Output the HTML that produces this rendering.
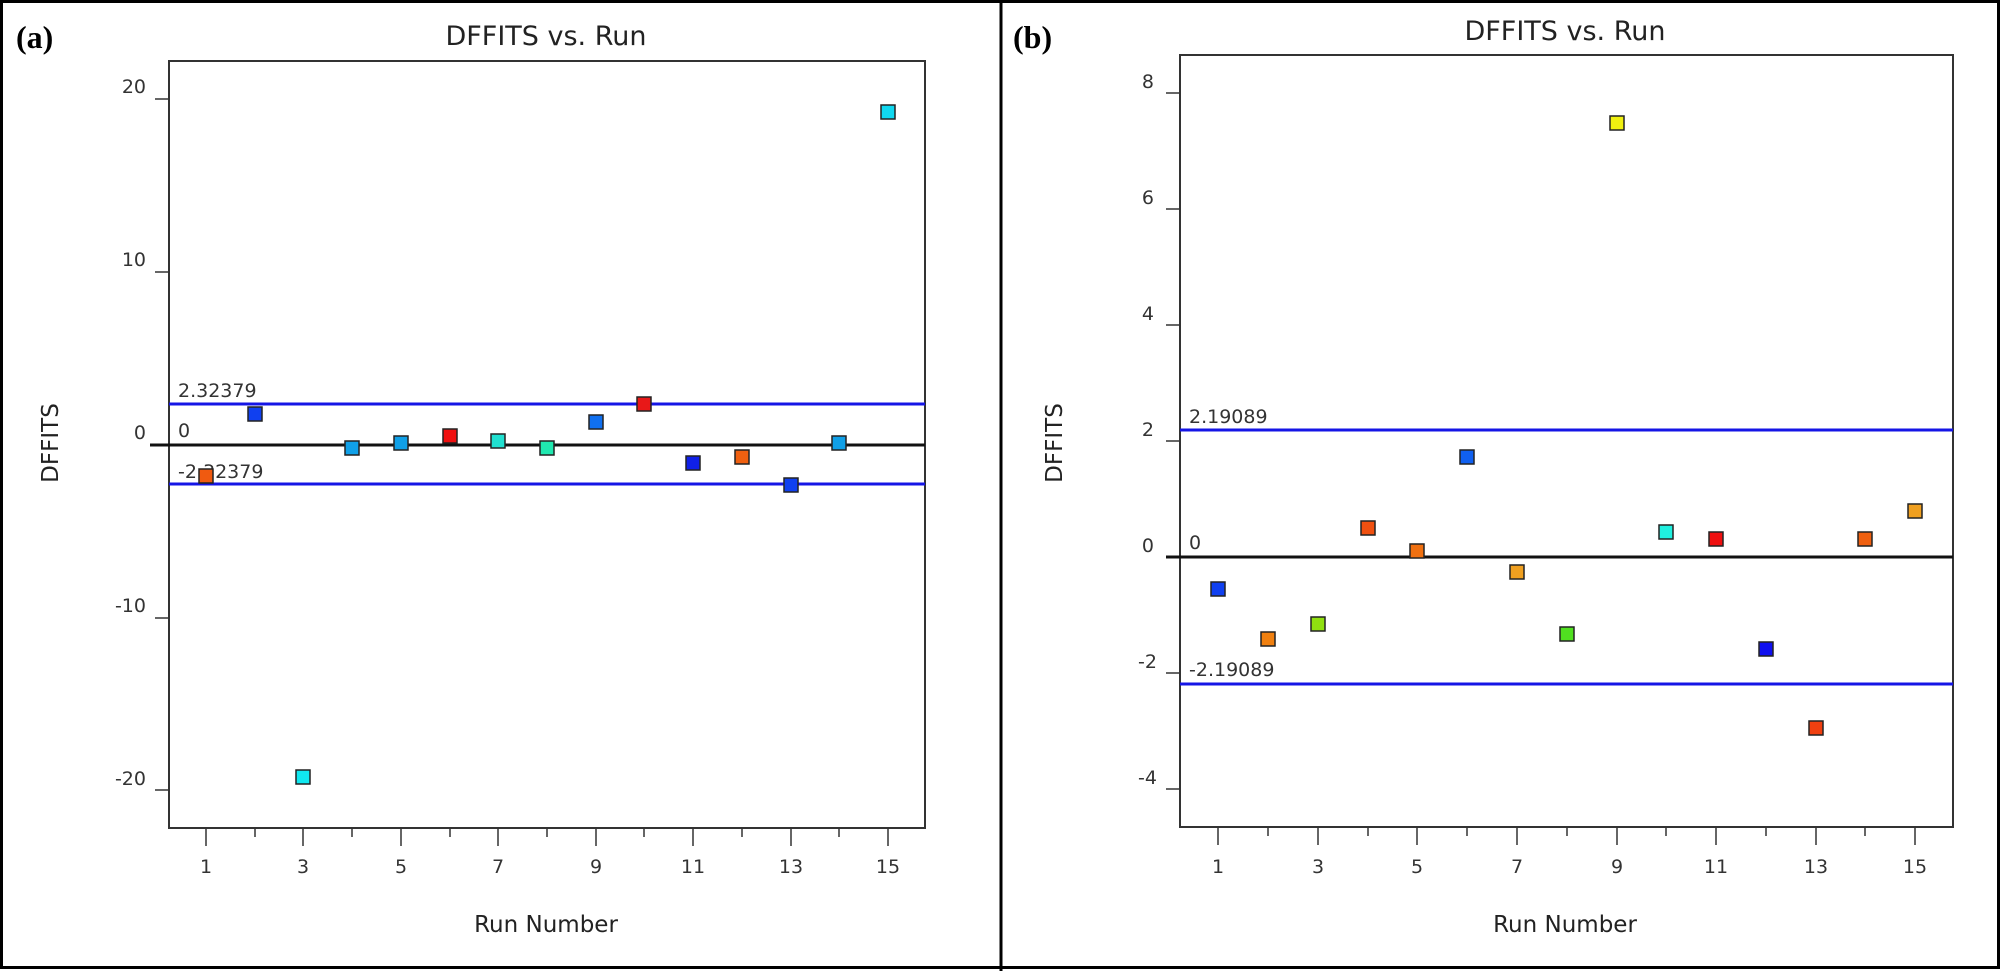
<!DOCTYPE html>
<html><head><style>
html,body{margin:0;padding:0;background:#fff;}
svg{display:block;}
text{font-family:"DejaVu Sans","Liberation Sans",sans-serif;fill:#333;}
.tk{font-size:19px;}
.ttl{font-size:27px;fill:#222;}
.lbl{font-size:23px;fill:#222;}
.pl{font-family:"Liberation Serif",serif;font-weight:bold;font-size:32px;fill:#000;}
</style></head><body>
<svg width="2000" height="971" viewBox="0 0 2000 971" xmlns="http://www.w3.org/2000/svg">
<rect x="1.5" y="1.5" width="1997" height="966" fill="none" stroke="#000" stroke-width="3"/>
<line x1="1001" y1="0" x2="1001" y2="971" stroke="#000" stroke-width="3"/>

<!-- Panel a -->
<text class="pl" x="16" y="48">(a)</text>
<text class="ttl" x="546" y="45" text-anchor="middle">DFFITS vs. Run</text>
<rect x="169" y="61" width="756" height="767" fill="none" stroke="#333" stroke-width="2"/>
<g stroke="#333" stroke-width="1.5">
<line x1="155" y1="99" x2="169" y2="99"/><line x1="155" y1="272" x2="169" y2="272"/><line x1="155" y1="445" x2="169" y2="445"/><line x1="155" y1="618" x2="169" y2="618"/><line x1="155" y1="790" x2="169" y2="790"/>
</g>
<g class="tk" text-anchor="end">
<text x="146" y="93">20</text><text x="146" y="266">10</text><text x="146" y="439">0</text><text x="146" y="612">-10</text><text x="146" y="785">-20</text>
</g>
<line x1="169" y1="404" x2="925" y2="404" stroke="#1515e6" stroke-width="3"/>
<line x1="169" y1="484" x2="925" y2="484" stroke="#1515e6" stroke-width="3"/>
<line x1="150" y1="445" x2="925" y2="445" stroke="#111" stroke-width="3"/>
<text class="tk" x="178" y="397">2.32379</text>
<text class="tk" x="178" y="437">0</text>
<text class="tk" x="178" y="478">-2.32379</text>
<text class="lbl" x="58" y="443" text-anchor="middle" transform="rotate(-90 58 443)">DFFITS</text>
<text class="lbl" x="546" y="932" text-anchor="middle">Run Number</text>

<!-- Panel b -->
<text class="pl" x="1013" y="48">(b)</text>
<text class="ttl" x="1565" y="40" text-anchor="middle">DFFITS vs. Run</text>
<rect x="1180" y="55" width="773" height="772" fill="none" stroke="#333" stroke-width="2"/>
<g stroke="#333" stroke-width="1.5">
<line x1="1166" y1="93" x2="1180" y2="93"/><line x1="1166" y1="209" x2="1180" y2="209"/><line x1="1166" y1="325" x2="1180" y2="325"/><line x1="1166" y1="441" x2="1180" y2="441"/><line x1="1166" y1="557" x2="1180" y2="557"/><line x1="1166" y1="673" x2="1180" y2="673"/><line x1="1166" y1="789" x2="1180" y2="789"/>
</g>
<g class="tk" text-anchor="end">
<text x="1154" y="88">8</text><text x="1154" y="204">6</text><text x="1154" y="320">4</text><text x="1154" y="436">2</text><text x="1154" y="552">0</text><text x="1157" y="668">-2</text><text x="1157" y="784">-4</text>
</g>
<line x1="1180" y1="430" x2="1953" y2="430" stroke="#1515e6" stroke-width="3"/>
<line x1="1180" y1="684" x2="1953" y2="684" stroke="#1515e6" stroke-width="3"/>
<line x1="1166" y1="557" x2="1953" y2="557" stroke="#111" stroke-width="3"/>
<text class="tk" x="1189" y="423">2.19089</text>
<text class="tk" x="1189" y="549">0</text>
<text class="tk" x="1189" y="676">-2.19089</text>
<text class="lbl" x="1062" y="443" text-anchor="middle" transform="rotate(-90 1062 443)">DFFITS</text>
<text class="lbl" x="1565" y="932" text-anchor="middle">Run Number</text>

<!-- x ticks a -->
<g stroke="#333" stroke-width="1.5">
<line x1="206" y1="828" x2="206" y2="846"/><line x1="255" y1="828" x2="255" y2="837"/><line x1="303" y1="828" x2="303" y2="846"/><line x1="352" y1="828" x2="352" y2="837"/><line x1="401" y1="828" x2="401" y2="846"/><line x1="450" y1="828" x2="450" y2="837"/><line x1="498" y1="828" x2="498" y2="846"/><line x1="547" y1="828" x2="547" y2="837"/><line x1="596" y1="828" x2="596" y2="846"/><line x1="644" y1="828" x2="644" y2="837"/><line x1="693" y1="828" x2="693" y2="846"/><line x1="742" y1="828" x2="742" y2="837"/><line x1="791" y1="828" x2="791" y2="846"/><line x1="839" y1="828" x2="839" y2="837"/><line x1="888" y1="828" x2="888" y2="846"/>
</g>
<g class="tk" text-anchor="middle">
<text x="206" y="873">1</text><text x="303" y="873">3</text><text x="401" y="873">5</text><text x="498" y="873">7</text><text x="596" y="873">9</text><text x="693" y="873">11</text><text x="791" y="873">13</text><text x="888" y="873">15</text>
</g>
<!-- x ticks b -->
<g stroke="#333" stroke-width="1.5">
<line x1="1218" y1="827" x2="1218" y2="845"/><line x1="1268" y1="827" x2="1268" y2="836"/><line x1="1318" y1="827" x2="1318" y2="845"/><line x1="1368" y1="827" x2="1368" y2="836"/><line x1="1417" y1="827" x2="1417" y2="845"/><line x1="1467" y1="827" x2="1467" y2="836"/><line x1="1517" y1="827" x2="1517" y2="845"/><line x1="1567" y1="827" x2="1567" y2="836"/><line x1="1617" y1="827" x2="1617" y2="845"/><line x1="1666" y1="827" x2="1666" y2="836"/><line x1="1716" y1="827" x2="1716" y2="845"/><line x1="1766" y1="827" x2="1766" y2="836"/><line x1="1816" y1="827" x2="1816" y2="845"/><line x1="1865" y1="827" x2="1865" y2="836"/><line x1="1915" y1="827" x2="1915" y2="845"/>
</g>
<g class="tk" text-anchor="middle">
<text x="1218" y="873">1</text><text x="1318" y="873">3</text><text x="1417" y="873">5</text><text x="1517" y="873">7</text><text x="1617" y="873">9</text><text x="1716" y="873">11</text><text x="1816" y="873">13</text><text x="1915" y="873">15</text>
</g>

<!-- markers a -->
<g stroke="#222" stroke-width="1.5">
<rect x="199" y="469" width="14" height="14" fill="#f05a10"/>
<rect x="248" y="407" width="14" height="14" fill="#1040f0"/>
<rect x="296" y="770" width="14" height="14" fill="#10e8f0"/>
<rect x="345" y="441" width="14" height="14" fill="#10a0e8"/>
<rect x="394" y="436" width="14" height="14" fill="#10a0e8"/>
<rect x="443" y="429" width="14" height="14" fill="#f01010"/>
<rect x="491" y="434" width="14" height="14" fill="#20e0d0"/>
<rect x="540" y="441" width="14" height="14" fill="#20e8b0"/>
<rect x="589" y="415" width="14" height="14" fill="#1070f0"/>
<rect x="637" y="397" width="14" height="14" fill="#e81818"/>
<rect x="686" y="456" width="14" height="14" fill="#1020e8"/>
<rect x="735" y="450" width="14" height="14" fill="#f06010"/>
<rect x="784" y="478" width="14" height="14" fill="#1040f0"/>
<rect x="832" y="436" width="14" height="14" fill="#10a0e8"/>
<rect x="881" y="105" width="14" height="14" fill="#10d8f0"/>
</g>
<!-- markers b -->
<g stroke="#222" stroke-width="1.5">
<rect x="1211" y="582" width="14" height="14" fill="#1040f0"/>
<rect x="1261" y="632" width="14" height="14" fill="#f08010"/>
<rect x="1311" y="617" width="14" height="14" fill="#90e010"/>
<rect x="1361" y="521" width="14" height="14" fill="#f05010"/>
<rect x="1410" y="544" width="14" height="14" fill="#f07010"/>
<rect x="1460" y="450" width="14" height="14" fill="#1060f0"/>
<rect x="1510" y="565" width="14" height="14" fill="#f0a020"/>
<rect x="1560" y="627" width="14" height="14" fill="#50e020"/>
<rect x="1610" y="116" width="14" height="14" fill="#f0f010"/>
<rect x="1659" y="525" width="14" height="14" fill="#20f0e0"/>
<rect x="1709" y="532" width="14" height="14" fill="#f01010"/>
<rect x="1759" y="642" width="14" height="14" fill="#1010f0"/>
<rect x="1809" y="721" width="14" height="14" fill="#f04010"/>
<rect x="1858" y="532" width="14" height="14" fill="#f06010"/>
<rect x="1908" y="504" width="14" height="14" fill="#f0a020"/>
</g>
</svg>
</body></html>
